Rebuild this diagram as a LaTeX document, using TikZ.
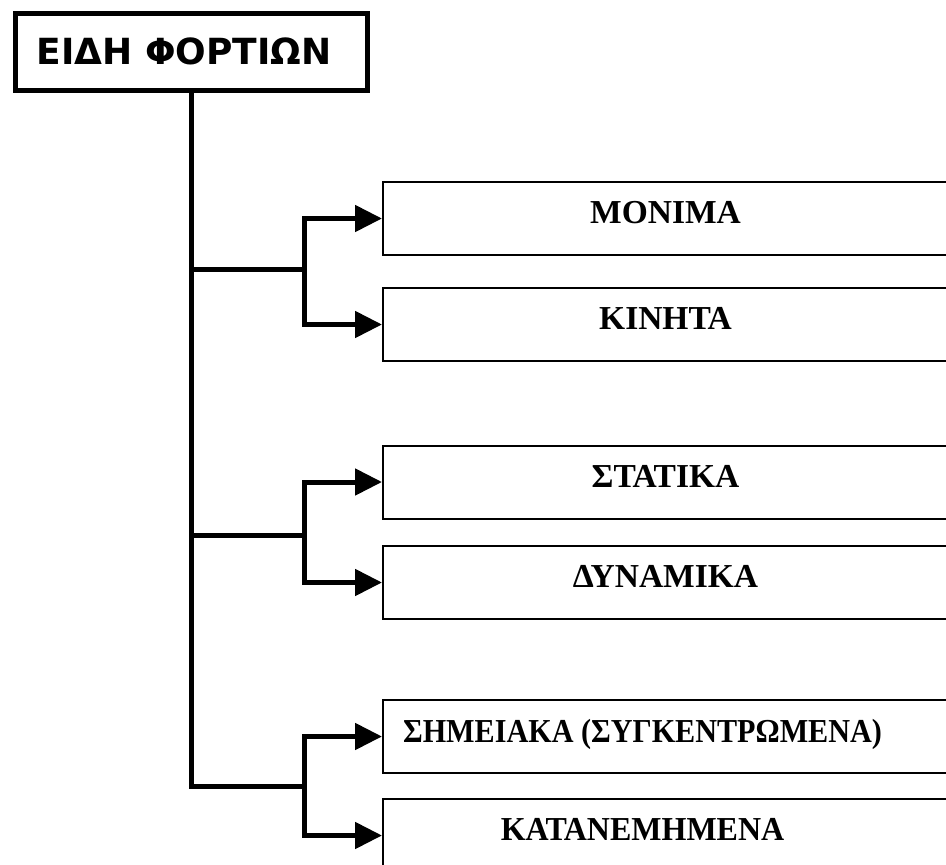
\documentclass[tikz,border=0pt]{standalone}
\usepackage{fontspec}
\setmainfont{Liberation Serif}
\newfontfamily\titlefont{DejaVu Sans}
\usetikzlibrary{arrows.meta}
\tikzset{
  titlebox/.style={draw,line width=5pt,minimum width=352pt,minimum height=77pt,
    font=\titlefont\bfseries\fontsize{36}{40}\selectfont},
  loadbox/.style={draw,line width=2pt,minimum width=565pt,minimum height=73pt,
    text depth=12pt,font=\bfseries\fontsize{33.5}{38}\selectfont},
  trunk/.style={line width=5pt},
  branch/.style={line width=5pt,-{Triangle[length=27pt,width=26pt]}}
}
\newcommand\leftlabel[2]{\makebox[0pt][c]{\scalebox{#1}[1]{#2}\hspace*{46pt}}}
\begin{document}
\begin{tikzpicture}[x=1pt,y=-1pt]
  \useasboundingbox (0,0) rectangle (946,865);
  \node[titlebox] (title) at (191,51.5) {ΕΙΔΗ ΦΟΡΤΙΩΝ\hspace*{14pt}};
  % the six kinds of loads
  \node[loadbox] (box1) at (665.5,218.5) {ΜΟΝΙΜΑ};
  \node[loadbox] (box2) at (665.5,324.5) {ΚΙΝΗΤΑ};
  \node[loadbox] (box3) at (665.5,482) {ΣΤΑΤΙΚΑ};
  \node[loadbox] (box4) at (665.5,582.5) {ΔΥΝΑΜΙΚΑ};
  \node[loadbox] (box5) at (665.5,736.5) {\leftlabel{0.9}{ΣΗΜΕΙΑΚΑ (ΣΥΓΚΕΝΤΡΩΜΕΝΑ)}};
  \node[loadbox] (box6) at (665.5,835.5) {\leftlabel{0.955}{ΚΑΤΑΝΕΜΗΜΕΝΑ}};
  % junctions on the trunk and split points
  \coordinate (j1) at (title.south |- 0,269);
  \coordinate (j2) at (title.south |- 0,535);
  \coordinate (s1) at (304,269);
  \coordinate (s2) at (304,535);
  \coordinate (s3) at (304,786);
  \draw[trunk] (title.south) |- (s3);
  \draw[trunk] (j1) -- (s1);
  \draw[trunk] (j2) -- (s2);
  \draw[branch] (s1) |- (box1.west);
  \draw[branch] (s1) |- (box2.west);
  \draw[branch] (s2) |- (box3.west);
  \draw[branch] (s2) |- (box4.west);
  \draw[branch] (s3) |- (box5.west);
  \draw[branch] (s3) |- (box6.west);
\end{tikzpicture}
\end{document}
